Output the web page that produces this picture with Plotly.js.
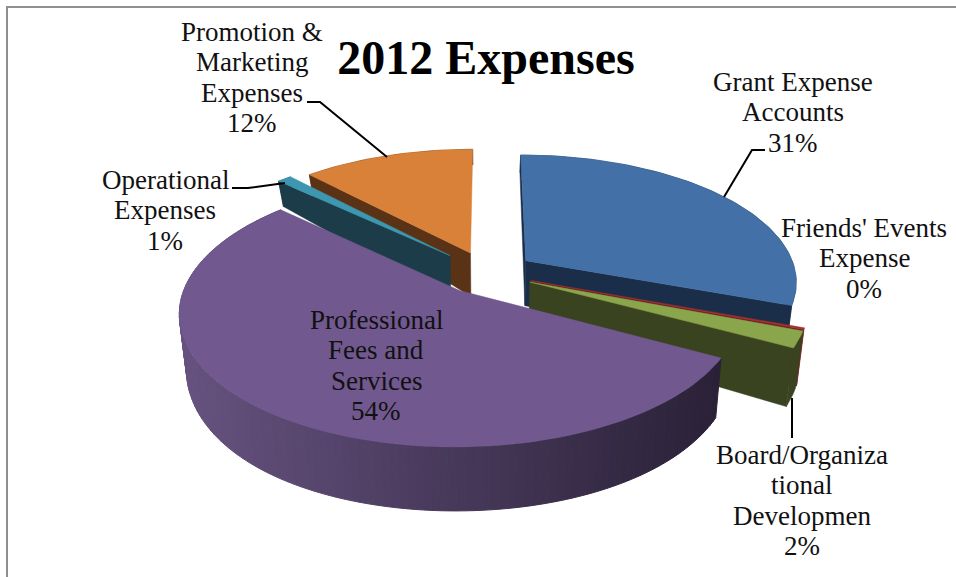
<!DOCTYPE html>
<html><head><meta charset="utf-8">
<script src="https://cdn.plot.ly/plotly-3.0.1.min.js"></script>
<style>html,body{margin:0;padding:0;background:#fff;overflow:hidden}</style>
</head><body><div id="chart" style="width:956px;height:577px"></div>
<script>
// ---- data ----
const categories = ["Grant Expense Accounts","Friends' Events Expense","Board/Organizational Developmen","Professional Fees and Services","Operational Expenses","Promotion & Marketing Expenses"];
const values = [30.6, 0.2, 2, 54, 1, 12];
const percentLabels = ["31%","0%","2%","54%","1%","12%"];
const labelLines = [
  ["Grant Expense","Accounts"],
  ["Friends' Events","Expense"],
  ["Board/Organiza","tional","Developmen"],
  ["Professional","Fees and","Services"],
  ["Operational","Expenses"],
  ["Promotion &","Marketing","Expenses"]
];
// ---- styling and layout ----
const topColors  = ["#4371a7","#a5312f","#8aa64c","#71588f","#3d97b0","#d98039"];
const wallColors = ["#1b2e49","#6b2020","#3a431f","#3c2e4e","#1b3c48","#5a3316"];
const labelAnchors = [[793,81.5],[864,227.5],[802,454.5],[376,319.5],[165,179.5],[252,31.5]];
const lineStep = 30.5;
const paintOrder = [5,4,0,1,2,3];
const view = {cx:487.5, cy:273, A:270.5, B:125.7, p:0.156};
const explode = [0.175,0.17,0.17,0.17,0.2,0.175];
const drawOrderPurple = 3;
const leaders = [
  [[307,320,387],[102,102,157]],
  [[232,248,285],[188,188,183]],
  [[765,752,724],[150,150,197]],
  [[792,792],[398,438]]
];

const rad = Math.PI/180;
const total = values.reduce((a,b)=>a+b,0);
function project(X,Y){
  const w = 1 - view.p*Y;
  return [view.cx + view.A*X/w, view.cy + view.B*Y/w];
}
function drop(pt){
  const r = (447-pt[1])/260;
  const d = 64 - 37*r*r;
  return [view.cx + (pt[0]-view.cx)*0.977, pt[1]+d];
}
function polyTrace(xy,color,name,w){
  return {type:'scatter',mode:'lines',x:xy.map(p=>p[0]),y:xy.map(p=>p[1]),fill:'toself',
    fillcolor:color,line:{color:color,width:w},hoverinfo:'skip',name:name,showlegend:false};
}
function mix(a,b,t){
  const h=c=>[1,3,5].map(i=>parseInt(c.substr(i,2),16));
  const A=h(a),B=h(b);
  return 'rgb('+A.map((v,i)=>Math.round(v+(B[i]-v)*t)).join(',')+')';
}
const traces=[];
let acc=0;
const slices = values.map((v,i)=>{const s=acc;acc+=v/total*360;return {i,s,e:acc};});
paintOrder.forEach(idx=>{
  const sl=slices[idx], mid=(sl.s+sl.e)/2;
  const ox=explode[idx]*Math.sin(mid*rad), oy=-explode[idx]*Math.cos(mid*rad);
  const P=th=>project(ox+Math.sin(th*rad),oy-Math.cos(th*rad));
  const apex=project(ox,oy);
  const arc=[];
  const n=Math.max(4,Math.ceil((sl.e-sl.s)/1.5));
  for(let k=0;k<=n;k++) arc.push(P(sl.s+(sl.e-sl.s)*k/n));
  // straight cut faces that look toward the viewer
  if(-Math.sin(sl.s*rad)>=-1e-9){
    const a=arc[0];
    traces.push(polyTrace([apex,a,drop(a),drop(apex),apex],wallColors[idx],categories[idx],0.5));
  }
  if(Math.sin(sl.e*rad)>0){
    const a=arc[n];
    traces.push(polyTrace([apex,a,drop(a),drop(apex),apex],wallColors[idx],categories[idx],0.5));
  }
  // rim
  if(idx===drawOrderPurple){
    for(let k=0;k<n;k++){
      const q=[arc[k],arc[k+1],drop(arc[k+1]),drop(arc[k]),arc[k]];
      const t=Math.min(1,Math.max(0,(arc[k][0]-180)/540));
      traces.push(polyTrace(q,mix("#66527f","#2a2137",t),categories[idx],1));
    }
  } else {
    const q=arc.concat(arc.slice().reverse().map(drop));
    q.push(arc[0]);
    traces.push(polyTrace(q,wallColors[idx],categories[idx],0.5));
  }
  // top face
  traces.push(polyTrace([apex].concat(arc,[apex]),topColors[idx],categories[idx],0.5));
});
leaders.forEach(l=>traces.push({type:'scatter',mode:'lines',x:l[0],y:l[1],
  line:{color:'#000',width:2},hoverinfo:'skip',showlegend:false}));

const annotations=[];
categories.forEach((c,i)=>{
  labelLines[i].concat([percentLabels[i]]).forEach((t,j)=>{
    annotations.push({x:labelAnchors[i][0],y:labelAnchors[i][1]+j*lineStep,xref:'x',yref:'y',
      text:t,showarrow:false,xanchor:'center',yanchor:'middle',
      font:{family:'"Liberation Serif",serif',size:27,color:'#111'}});
  });
});
const frame='#8f8f8f';
Plotly.newPlot('chart',traces,{
  width:956,height:577,margin:{l:0,r:0,t:0,b:0},
  paper_bgcolor:'#fff',plot_bgcolor:'#fff',showlegend:false,
  title:{text:'<b>2012 Expenses</b>',x:486/956,xanchor:'center',y:1-57/577,yanchor:'middle',
    font:{family:'"Liberation Serif",serif',size:48,color:'#000'}},
  xaxis:{range:[0,956],visible:false,fixedrange:true},
  yaxis:{range:[577,0],visible:false,fixedrange:true},
  shapes:[
    {type:'line',xref:'x',yref:'y',x0:7,x1:7,y0:6,y1:577,line:{color:frame,width:2}},
    {type:'line',xref:'x',yref:'y',x0:6,x1:956,y0:7,y1:7,line:{color:frame,width:2}}
  ],
  annotations:annotations
},{displayModeBar:false,staticPlot:true});
</script></body></html>
